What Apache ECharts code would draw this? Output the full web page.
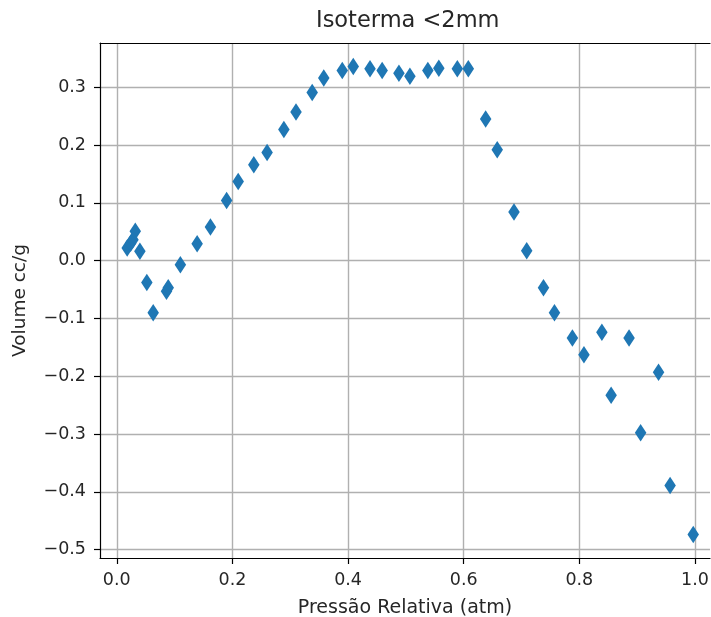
<!DOCTYPE html>
<html>
<head>
<meta charset="utf-8">
<script src="https://cdn.jsdelivr.net/npm/echarts@6/dist/echarts.min.js"></script>
<style>
html,body{margin:0;padding:0;background:#fff;}
#chart{width:711px;height:617px;}
</style>
</head>
<body>
<div id="chart"></div>
<script>
const titleText = 'Isoterma <2mm';
const xAxisName = 'Pressão Relativa (atm)';
const yAxisName = 'Volume cc/g';
const xTicks = [0, 0.2, 0.4, 0.6, 0.8, 1.0];
const yTicks = [-0.5, -0.4, -0.3, -0.2, -0.1, 0, 0.1, 0.2, 0.3];
const pressure = [0.018,0.024,0.028,0.032,0.040,0.052,0.063,0.086,0.089,0.110,0.139,0.162,0.190,0.210,0.237,0.260,0.289,0.310,0.338,0.358,0.390,0.409,0.438,0.459,0.488,0.507,0.538,0.557,0.589,0.608,0.638,0.658,0.687,0.709,0.738,0.757,0.788,0.808,0.839,0.855,0.886,0.906,0.937,0.957,0.997];
const volume = [0.022,0.030,0.036,0.051,0.016,-0.038,-0.090,-0.053,-0.047,-0.007,0.029,0.058,0.104,0.137,0.166,0.187,0.227,0.257,0.291,0.316,0.329,0.336,0.332,0.329,0.324,0.319,0.329,0.333,0.332,0.332,0.245,0.192,0.084,0.017,-0.047,-0.090,-0.134,-0.163,-0.124,-0.233,-0.134,-0.298,-0.193,-0.389,-0.474];

const points = pressure.map((x, i) => [x, volume[i]]);
const fmt = v => (v < 0 ? '\u2212' : '') + Math.abs(v).toFixed(1);
const FONT = 'DejaVu Sans';
const X_MIN = -0.029, X_MAX = 1.026;

const chart = echarts.init(document.getElementById('chart'), null, {renderer: 'canvas'});
chart.setOption({
  animation: false,
  backgroundColor: '#ffffff',
  title: {
    text: titleText,
    left: 316,
    top: 10,
    padding: 0,
    textStyle: {fontFamily: FONT, fontSize: 22.5, fontWeight: 'normal', color: '#262626'}
  },
  grid: {
    left: 100, right: 1, top: 43, bottom: 59,
    outerBoundsMode: 'none',
    containLabel: false,
    show: false
  },
  xAxis: [{
    type: 'value',
    min: X_MIN, max: X_MAX,
    name: xAxisName,
    nameLocation: 'middle',
    nameGap: 41,
    nameTextStyle: {fontFamily: FONT, fontSize: 19, color: '#262626'},
    axisLine: {show: true, onZero: false, lineStyle: {color: '#000', width: 1.2}},
    axisTick: {show: true, inside: false, length: 6, customValues: xTicks, lineStyle: {color: '#000', width: 1.2}},
    axisLabel: {customValues: xTicks, formatter: fmt, margin: 13, fontFamily: FONT, fontSize: 17.5, color: '#262626'},
    splitLine: {show: true, lineStyle: {color: '#b0b0b0', width: 1.4}}
  }, {
    type: 'value',
    position: 'top',
    min: X_MIN, max: X_MAX,
    axisLine: {show: true, onZero: false, lineStyle: {color: '#000', width: 1.2}},
    axisTick: {show: false},
    axisLabel: {show: false},
    splitLine: {show: false}
  }],
  yAxis: {
    type: 'value',
    min: -0.5145, max: 0.3765,
    name: yAxisName,
    nameLocation: 'middle',
    nameRotate: 90,
    nameGap: 70,
    nameTextStyle: {fontFamily: FONT, fontSize: 18.5, color: '#262626'},
    axisLine: {show: true, onZero: false, lineStyle: {color: '#000', width: 1.2}},
    axisTick: {show: true, inside: false, length: 6, customValues: yTicks, lineStyle: {color: '#000', width: 1.2}},
    axisLabel: {customValues: yTicks, formatter: fmt, margin: 14, fontFamily: FONT, fontSize: 17.5, color: '#262626'},
    splitLine: {show: true, lineStyle: {color: '#b0b0b0', width: 1.4}}
  },
  series: [{
    type: 'scatter',
    xAxisIndex: 0,
    data: points,
    symbol: 'diamond',
    symbolSize: [11.5, 17.5],
    itemStyle: {color: '#1f77b4', opacity: 1},
    z: 5
  }]
});
</script>
</body>
</html>
